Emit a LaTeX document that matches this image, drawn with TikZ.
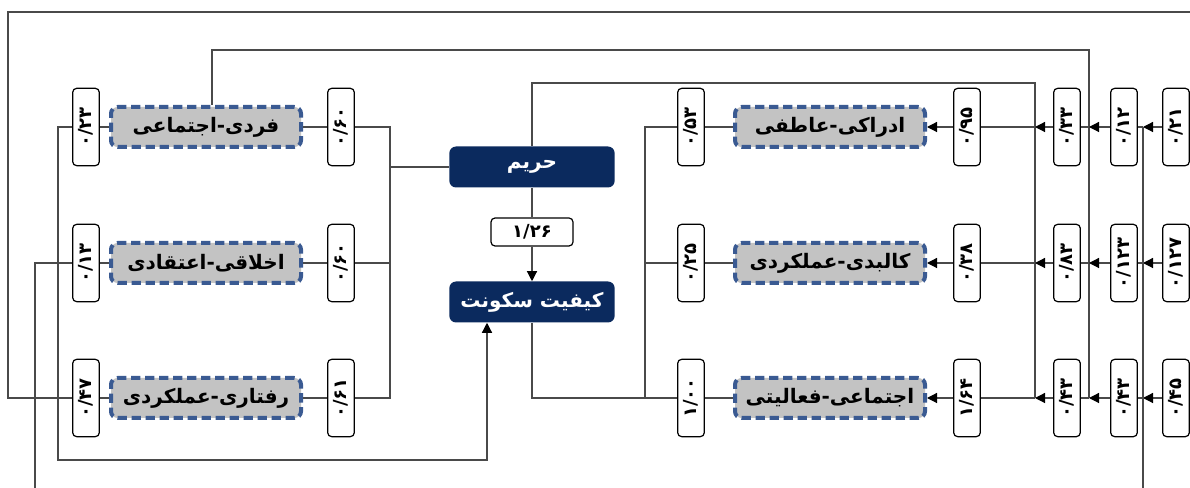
\documentclass[tikz,border=0pt]{standalone}
\usepackage{fontspec}
\usepackage{graphicx}
\usetikzlibrary{arrows.meta,calc}
\TeXXeTstate=1
\newfontfamily\fa[Script=Arabic]{DejaVu Sans}
\definecolor{corenavy}{HTML}{0B2A5E}
\definecolor{dimblue}{HTML}{3A5A92}
\definecolor{dimgray}{HTML}{C3C3C3}
\definecolor{lncol}{HTML}{4A4A4A}
\newcommand{\rotnum}[1]{\rotatebox{90}{#1}}
\newcommand{\rl}[1]{\beginR #1\endR}
\tikzset{
  conn/.style={draw=lncol, line width=0.9pt},
  arr/.style={conn, -{Triangle[length=7.5pt,width=7.5pt,color=black]}},
  dimbox/.style={draw=dimblue, fill=dimgray, dash pattern=on 7pt off 3.5pt, line width=3pt,
    rounded corners=5pt, minimum width=142.5pt, minimum height=30pt, inner sep=0pt,
    font=\fa\bfseries\fontsize{15}{17}\selectfont},
  coef/.style={draw=black, fill=white, line width=0.9pt, rounded corners=3pt,
    minimum width=20pt, minimum height=58pt, inner sep=0pt,
    font=\fa\bfseries\fontsize{13.5}{15}\selectfont},
  core/.style={fill=corenavy, text=white, rounded corners=5pt, minimum width=124pt,
    minimum height=30.75pt, inner sep=0pt, font=\fa\bfseries\fontsize{15}{17}\selectfont},
  valbox/.style={draw=black, fill=white, line width=0.9pt, rounded corners=3pt,
    minimum width=61.5pt, minimum height=21pt, inner sep=0pt,
    font=\fa\bfseries\fontsize{13.5}{15}\selectfont}
}
\begin{document}
\begin{tikzpicture}[x=0.75pt,y=-0.75pt]
\useasboundingbox (0,0) rectangle (1190,488);
% ---------- left group ----------
\node[dimbox] (fe) at (206,127) {\rl{فردی-اجتماعی}};
\node[dimbox] (ae) at (206,263) {\rl{اخلاقی-اعتقادی}};
\node[dimbox] (ra) at (206,398) {\rl{رفتاری-عملکردی}};
\node[coef] (l11) at (86,127) {\rotnum{۰/۲۳}};
\node[coef] (l12) at (86,263) {\rotnum{۰/۱۳}};
\node[coef] (l13) at (86,398) {\rotnum{۰/۴۷}};
\node[coef] (l21) at (341,127) {\rotnum{۰/۶۰}};
\node[coef] (l22) at (341,263) {\rotnum{۰/۶۰}};
\node[coef] (l23) at (341,398) {\rotnum{۰/۶۱}};
% ---------- centre ----------
\node[core] (hr) at (532,167) {\rl{حریم}};
\node[valbox] (v126) at (532,232) {۱/۲۶};
\node[core] (ks) at (532,302) {\rl{کیفیت سکونت}};
% ---------- right group ----------
\node[dimbox] (ak) at (830,127) {\rl{ادراکی-عاطفی}};
\node[dimbox] (ka) at (830,263) {\rl{کالبدی-عملکردی}};
\node[dimbox] (ef) at (830,398) {\rl{اجتماعی-فعالیتی}};
\node[coef] (r1) at (691,127) {\rotnum{۰/۵۳}};
\node[coef] (r2) at (691,263) {\rotnum{۰/۲۵}};
\node[coef] (r3) at (691,398) {\rotnum{۱/۰۰}};
\node[coef] (d1) at (967,127) {\rotnum{۰/۹۵}};
\node[coef] (d2) at (967,263) {\rotnum{۰/۳۸}};
\node[coef] (d3) at (967,398) {\rotnum{۱/۶۴}};
\node[coef] (c1) at (1067,127) {\rotnum{۰/۳۳}};
\node[coef] (c2) at (1067,263) {\rotnum{۰/۸۳}};
\node[coef] (c3) at (1067,398) {\rotnum{۰/۴۳}};
\node[coef] (b1) at (1124,127) {\rotnum{۰/۱۲}};
\node[coef] (b2) at (1124,263) {\rotnum{۰/۱۲۳}};
\node[coef] (b3) at (1124,398) {\rotnum{۰/۴۳}};
\node[coef] (a1) at (1176,127) {\rotnum{۰/۲۱}};
\node[coef] (a2) at (1176,263) {\rotnum{۰/۱۲۷}};
\node[coef] (a3) at (1176,398) {\rotnum{۰/۴۵}};
% ---------- helper coordinates ----------
\coordinate (tl) at (8,12);
\coordinate (topR) at (1190,12);
\coordinate (botL) at (35,488);
\coordinate (bl) at (58,460);
\coordinate (lb) at (390,167);
\coordinate (rb) at (645,398);
\coordinate (v1t) at (1035,83);
\coordinate (v1b) at (1035,398);
\coordinate (v2t) at (1089,50);
\coordinate (v2b) at (1089,398);
\coordinate (v3t) at (1143,127);
\coordinate (v3b) at (1143,488);
% ---------- left connectors ----------
\draw[conn] (l11) -- (fe);
\draw[conn] (l12) -- (ae);
\draw[conn] (l13) -- (ra);
\draw[conn] (fe) -- (l21);
\draw[conn] (ae) -- (l22);
\draw[conn] (ra) -- (l23);
\draw[conn] (l21.east) -| (lb);
\draw[conn] (l23.east) -| (lb);
\draw[conn] (l22.east) -- (l22.east -| lb);
\draw[conn] (lb) -- (hr.west);
\draw[conn] (l13.west) -| (tl) -- (topR);
\draw[conn] (l12.west) -| (botL);
\draw[arr] (l11.west) -| (bl) -| ([xshift=-33.75pt]ks.south);
\draw[conn] ([xshift=4.5pt]fe.north) |- (v2t) -- (v2b);
% ---------- centre connectors ----------
\draw[conn] (hr) -- (v126);
\draw[arr] (v126) -- (ks);
\draw[conn] (hr.north) |- (v1t) -- (v1b);
\draw[conn] (ks.south) |- (r3.west);
\draw[conn] (r1.west) -| (rb);
\draw[conn] (r2.west) -- (r2.west -| rb);
% ---------- right connectors ----------
\draw[conn] (r1) -- (ak);
\draw[conn] (r2) -- (ka);
\draw[conn] (r3) -- (ef);
\draw[arr] (d1.west) -- (ak.east);
\draw[arr] (d2.west) -- (ka.east);
\draw[arr] (d3.west) -- (ef.east);
\foreach \n in {1,2,3}{
  \draw[conn] (d\n.east) -- (d\n.east -| v1t);
  \draw[arr] (c\n.west) -- (c\n.west -| v1t);
  \draw[conn] (c\n.east) -- (c\n.east -| v2t);
  \draw[arr] (b\n.west) -- (b\n.west -| v2t);
  \draw[conn] (b\n.east) -- (b\n.east -| v3t);
  \draw[arr] (a\n.west) -- (a\n.west -| v3t);
}
\draw[conn] (v3t) -- (v3b);
\end{tikzpicture}
\end{document}
